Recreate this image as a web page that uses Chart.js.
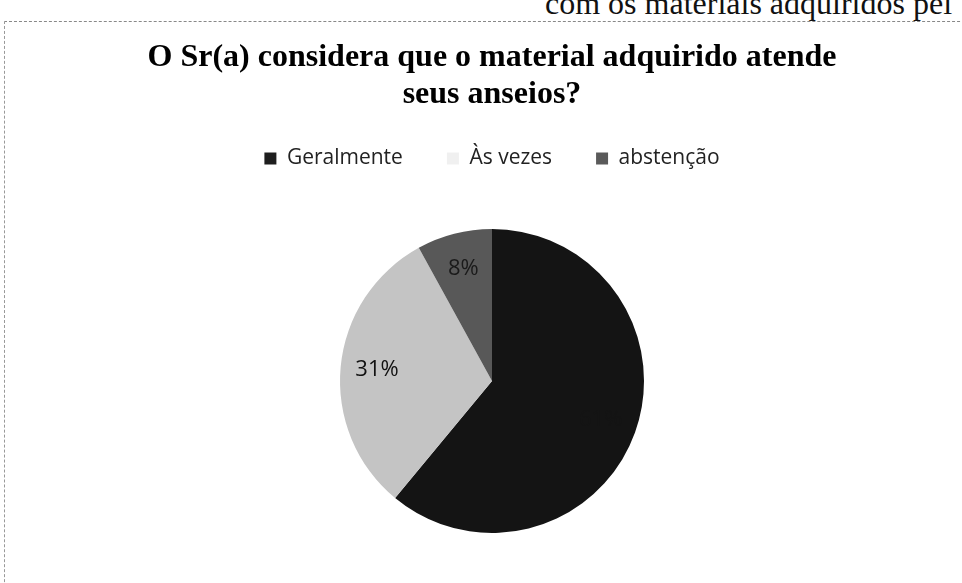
<!DOCTYPE html>
<html>
<head>
<meta charset="utf-8">
<script src="https://cdn.jsdelivr.net/npm/chart.js@4.4.0/dist/chart.umd.min.js"></script>
<style>
  html, body { margin: 0; padding: 0; background: #fff; }
  body { width: 962px; height: 583px; position: relative; overflow: hidden; }
  #topText { position: absolute; left: 545px; top: -15px; font-family: "Liberation Serif", serif; font-size: 32px; line-height: 36px; color: #111; white-space: nowrap; }
  #frame { position: absolute; left: 4px; top: 21px; width: 980px; height: 600px; border-top: 1px dashed #888; border-left: 1px dashed #999; }
  #wrap { position: absolute; left: 0; top: 0; width: 962px; height: 583px; }
</style>
</head>
<body>
<div id="topText">com os materiais adquiridos pel</div>
<div id="frame"></div>
<div id="wrap"><canvas id="c" width="962" height="583"></canvas></div>
<script>
const titleLines = ["O Sr(a) considera que o material adquirido atende", "seus anseios?"];
const categories = ["Geralmente", "Às vezes", "abstenção"];
const values = [61, 31, 8];
const percentLabels = ["61%", "31%", "8%"];
const sliceColors = ["#141414", "#c4c4c4", "#585858"];
const legendColors = ["#1e1e1e", "#f0f0f0", "#5a5a5a"];
const labelColors = ["#141414", "#111111", "#1a1a1a"];

const labelPlugin = {
  id: "sliceLabels",
  afterDatasetsDraw(chart) {
    const ctx = chart.ctx;
    const meta = chart.getDatasetMeta(0);
    ctx.save();
    ctx.font = "22px 'Open Sans', sans-serif";
    ctx.textAlign = "center";
    ctx.textBaseline = "middle";
    meta.data.forEach((arc, i) => {
      const p = arc.getProps(["x", "y", "startAngle", "endAngle", "outerRadius"], true);
      const mid = (p.startAngle + p.endAngle) / 2;
      const r = p.outerRadius * 0.76;
      ctx.fillStyle = labelColors[i];
      ctx.fillText(percentLabels[i], p.x + Math.cos(mid) * r, p.y + Math.sin(mid) * r);
    });
    ctx.restore();
  }
};

new Chart(document.getElementById("c"), {
  type: "pie",
  data: {
    labels: categories,
    datasets: [{
      data: values,
      backgroundColor: sliceColors,
      borderWidth: 0,
      radius: 152
    }]
  },
  options: {
    responsive: false,
    animation: false,
    layout: { padding: { left: 22, right: 0, top: 0, bottom: -14 } },
    plugins: {
      tooltip: { enabled: false },
      title: {
        display: true,
        text: titleLines,
        color: "#000",
        font: { family: "'Liberation Serif', serif", size: 32, weight: "bold", lineHeight: "37px" },
        padding: { top: 39, bottom: -9 }
      },
      legend: {
        display: true,
        position: "top",
        labels: {
          color: "#222",
          font: { family: "'Open Sans', sans-serif", size: 21 },
          boxWidth: 12,
          boxHeight: 12,
          padding: 44,
          generateLabels(chart) {
            return categories.map((c, i) => ({
              text: c,
              fillStyle: legendColors[i],
              strokeStyle: legendColors[i],
              lineWidth: 0,
              hidden: false,
              index: i,
              fontColor: "#222"
            }));
          }
        }
      }
    }
  },
  plugins: [labelPlugin]
});
</script>
</body>
</html>
